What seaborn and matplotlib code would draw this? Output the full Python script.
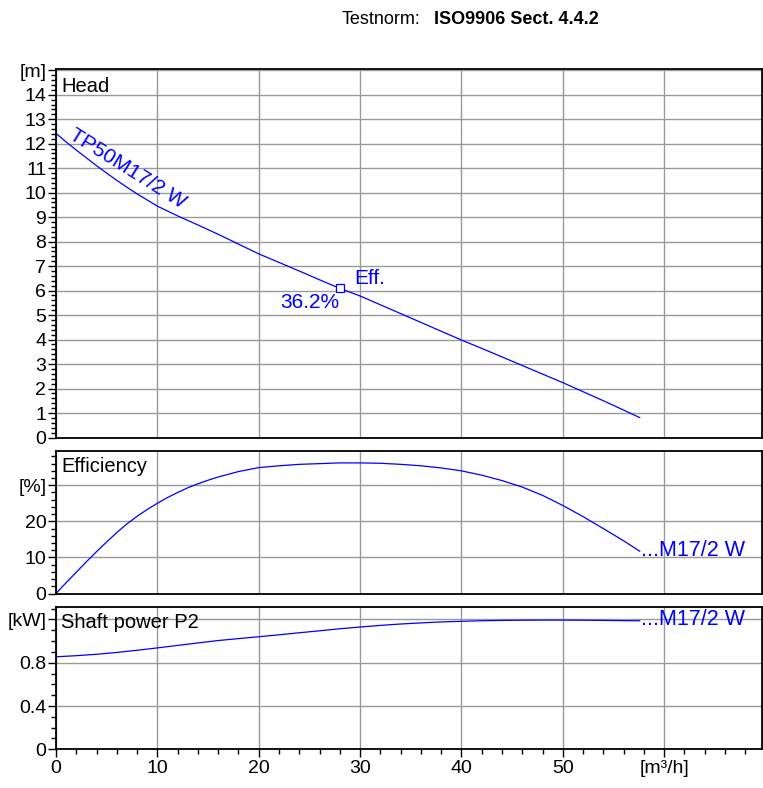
import numpy as np
import pandas as pd
import matplotlib
matplotlib.use("Agg")
import matplotlib.pyplot as plt
from matplotlib.ticker import MultipleLocator, FixedLocator, FixedFormatter
import seaborn as sns

# -------------------------
# data
# -------------------------
head_q = [0, 1, 2, 3, 4, 5, 6, 7, 8, 9, 10, 12, 14, 16, 18, 20, 22, 24, 26, 28,
          30, 32, 34, 36, 38, 40, 42, 44, 46, 48, 50, 52, 54, 56, 57.6]
head_h = [12.42, 12.07, 11.74, 11.42, 11.1, 10.8, 10.5, 10.22, 9.95, 9.7, 9.45,
          9.05, 8.68, 8.3, 7.9, 7.5, 7.15, 6.8, 6.44, 6.09, 5.78, 5.42, 5.06, 4.7,
          4.34, 3.98, 3.64, 3.29, 2.94, 2.59, 2.24, 1.87, 1.5, 1.12, 0.81]

eff_q = [0, 1, 2, 3, 4, 5, 6, 7, 8, 9, 10, 11, 12, 13, 14, 15, 16, 18, 20, 22, 24,
         26, 28, 30, 32, 34, 36, 38, 40, 42, 44, 46, 48, 50, 52, 54, 56, 57.6]
eff_pct = [0, 3.0, 5.9, 8.8, 11.6, 14.3, 16.9, 19.3, 21.4, 23.3, 25.0, 26.6, 28.0,
           29.3, 30.4, 31.4, 32.3, 33.8, 34.9, 35.4, 35.8, 36.0, 36.2, 36.2, 36.1,
           35.8, 35.4, 34.8, 34.0, 32.8, 31.3, 29.5, 27.2, 24.4, 21.3, 18.0, 14.6,
           11.7]

pow_q = [0, 2, 4, 6, 8, 10, 12, 14, 16, 18, 20, 22, 24, 26, 28, 30, 32, 34, 36,
         38, 40, 42, 44, 46, 48, 50, 52, 54, 56, 57.6]
pow_kw = [0.855, 0.865, 0.878, 0.895, 0.915, 0.937, 0.96, 0.983, 1.005, 1.023,
          1.04, 1.058, 1.077, 1.095, 1.114, 1.13, 1.145, 1.158, 1.168, 1.177,
          1.183, 1.188, 1.191, 1.193, 1.194, 1.194, 1.193, 1.191, 1.189, 1.188]

duty_q = 28.0
duty_h = 6.09
duty_eff = "36.2%"
pump_name = "TP50M17/2 W"
short_name = "...M17/2 W"

x_ticks = [0, 10, 20, 30, 40, 50, 60]
x_labels = ["0", "10", "20", "30", "40", "50", "[m³/h]"]
head_ticks = list(range(0, 16))
head_labels = [str(v) for v in range(0, 15)] + ["[m]"]
eff_ticks = [0, 10, 20, 30]
eff_labels = ["0", "10", "20", "[%]"]
pow_ticks = [0, 0.4, 0.8, 1.2]
pow_labels = ["0", "0.4", "0.8", "[kW]"]

# -------------------------
# style
# -------------------------
sns.set_style("white")
plt.rcParams['font.family'] = ['Liberation Sans', 'DejaVu Sans']
plt.rcParams['text.color'] = 'black'
plt.rcParams['xtick.color'] = 'black'
plt.rcParams['ytick.color'] = 'black'
plt.rcParams['xtick.labelcolor'] = 'black'
plt.rcParams['ytick.labelcolor'] = 'black'
blue = "#0000ff"
grid_col = "#9a9a9a"

fig = plt.figure(figsize=(7.63, 7.88), dpi=100)
W, H = 763, 788
left, right = 56, 761.5


def make_ax(top, bottom):
    return fig.add_axes([left / W, 1 - bottom / H, (right - left) / W, (bottom - top) / H])


ax_h = make_ax(69, 437.5)
ax_e = make_ax(451, 593.5)
ax_p = make_ax(607, 749.3)

for ax in (ax_h, ax_e, ax_p):
    ax.set_xlim(0, 69.6)
    ax.xaxis.set_major_locator(FixedLocator(x_ticks))
    ax.xaxis.set_minor_locator(MultipleLocator(2))
    ax.grid(True, which='major', color=grid_col, linewidth=1.0)
    ax.set_axisbelow(True)
    for s in ax.spines.values():
        s.set_color("black")
        s.set_linewidth(1.3)
    ax.tick_params(axis='y', which='major', direction='out', length=6, width=1,
                   labelsize=14, pad=1, left=True, colors='black')
    ax.tick_params(axis='y', which='minor', direction='out', length=3.5, width=1,
                   left=True, colors='black')
    ax.set_xlabel("")
    ax.set_ylabel("")

for ax in (ax_h, ax_e):
    ax.tick_params(axis='x', which='both', bottom=False, labelbottom=False)

ax_p.tick_params(axis='x', which='major', direction='out', length=6, width=1,
                 labelsize=14, pad=2, bottom=True, colors='black')
ax_p.tick_params(axis='x', which='minor', direction='out', length=3.5, width=1,
                 bottom=True, colors='black')
ax_p.xaxis.set_major_formatter(FixedFormatter(x_labels))

# -------------------------
# Head
# -------------------------
sns.lineplot(x=head_q, y=head_h, ax=ax_h, color=blue, linewidth=0.9)
ax_h.set_ylim(0, 15.05)
ax_h.yaxis.set_major_locator(FixedLocator(head_ticks))
ax_h.yaxis.set_major_formatter(FixedFormatter(head_labels))
ax_h.yaxis.set_minor_locator(MultipleLocator(0.2))
ax_h.plot([duty_q], [duty_h], marker='s', markersize=6, markerfacecolor='white',
          markeredgecolor=blue, markeredgewidth=0.9, linestyle='none')
ax_h.text(29.4, 6.27, "Eff.", color=blue, fontsize=15, ha='left', va='baseline')
ax_h.text(28.0, 5.3, duty_eff, color=blue, fontsize=15, ha='right', va='baseline')
ax_h.text(1.2, 12.25, pump_name, color=blue, fontsize=15, rotation=-32,
          rotation_mode='anchor', ha='left', va='baseline')
ax_h.text(0.007, 0.978, "Head", transform=ax_h.transAxes, fontsize=14.5,
          ha='left', va='top')

# -------------------------
# Efficiency
# -------------------------
sns.lineplot(x=eff_q, y=eff_pct, ax=ax_e, color=blue, linewidth=0.9)
ax_e.set_ylim(0, 39.5)
ax_e.yaxis.set_major_locator(FixedLocator(eff_ticks))
ax_e.yaxis.set_major_formatter(FixedFormatter(eff_labels))
ax_e.yaxis.set_minor_locator(MultipleLocator(2))
ax_e.text(57.7, 10.4, short_name, color=blue, fontsize=15.5, ha='left', va='baseline')
ax_e.text(0.007, 0.955, "Efficiency", transform=ax_e.transAxes, fontsize=14.5,
          ha='left', va='top')

# -------------------------
# Shaft power
# -------------------------
sns.lineplot(x=pow_q, y=pow_kw, ax=ax_p, color=blue, linewidth=0.9)
ax_p.set_ylim(0, 1.315)
ax_p.yaxis.set_major_locator(FixedLocator(pow_ticks))
ax_p.yaxis.set_major_formatter(FixedFormatter(pow_labels))
ax_p.yaxis.set_minor_locator(MultipleLocator(0.1))
ax_p.text(57.7, 1.148, short_name, color=blue, fontsize=15.5, ha='left', va='baseline')
ax_p.text(0.007, 0.96, "Shaft power P2", transform=ax_p.transAxes, fontsize=14.5,
          ha='left', va='top')

# -------------------------
# header
# -------------------------
fig.text(342 / W, 1 - 24 / H, "Testnorm:", fontsize=13, ha='left', va='baseline')
fig.text(434 / W, 1 - 24 / H, "ISO9906 Sect. 4.4.2", fontsize=13, fontweight='bold',
         ha='left', va='baseline')

fig.savefig("out.png", dpi=100)
